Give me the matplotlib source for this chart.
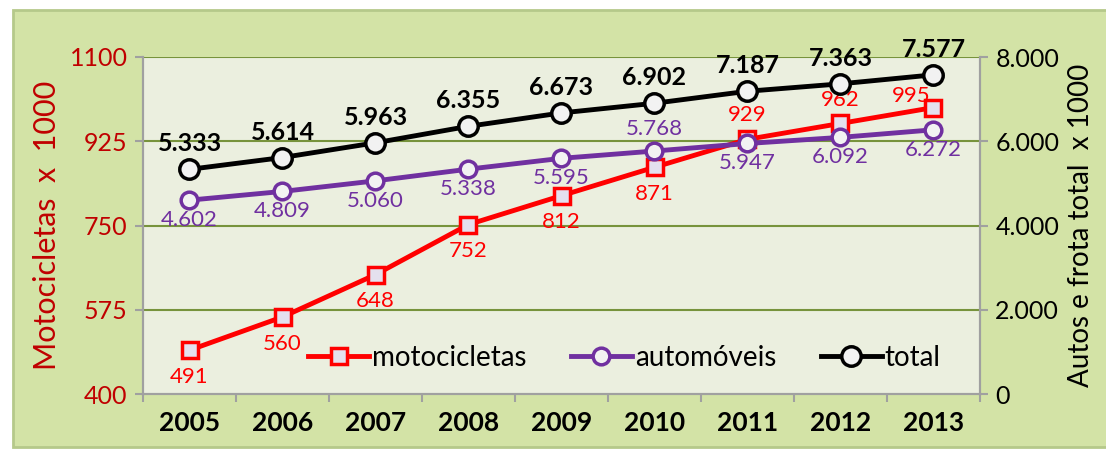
import matplotlib.pyplot as plt
from matplotlib.patches import Rectangle

# data
anos = ['2005', '2006', '2007', '2008', '2009', '2010', '2011', '2012', '2013']
motocicletas = [491, 560, 648, 752, 812, 871, 929, 962, 995]
automoveis = [4602, 4809, 5060, 5338, 5595, 5768, 5947, 6092, 6272]
total = [5333, 5614, 5963, 6355, 6673, 6902, 7187, 7363, 7577]

left_ticks = [400, 575, 750, 925, 1100]
right_ticks = [0, 2000, 4000, 6000, 8000]
right_tick_labels = ['0', '2.000', '4.000', '6.000', '8.000']

FONT = 'Lato'
RED = '#ff0000'
DARKRED = '#c00000'
PURPLE = '#7030a0'
GRID = '#77933c'
SPINE = '#a0a0a0'


def fmt_br(v):
    return f"{v:,}".replace(',', '.')


def main():
    plt.rcParams['font.family'] = [FONT, 'DejaVu Sans']
    fig = plt.figure(figsize=(11.06, 4.51), dpi=100)
    fig.patch.set_facecolor('white')

    # green outer panel
    fig.patches.append(Rectangle((13 / 1106, 4 / 451), 1.0, 437 / 451,
                                 transform=fig.transFigure, facecolor='#d3e3a6',
                                 edgecolor='#b5c98a', linewidth=2, zorder=-10))

    ax = fig.add_axes([143 / 1106, 1 - 394 / 451, (980 - 143) / 1106, (394 - 57) / 451])
    ax.set_facecolor('#ebefdf')
    ax2 = ax.twinx()

    x = list(range(len(anos)))

    ax.set_ylim(400, 1100)
    ax.set_xlim(-0.5, len(anos) - 0.5)
    ax2.set_ylim(0, 8000)

    ax.set_yticks(left_ticks)
    ax.set_yticklabels([str(t) for t in left_ticks], color=DARKRED, fontsize=18)
    ax2.set_yticks(right_ticks)
    ax2.set_yticklabels(right_tick_labels, fontsize=18)

    for t in left_ticks[1:]:
        ax.axhline(t, color=GRID, lw=1.5, zorder=0.5)

    ax.set_xticks(x)
    ax.set_xticklabels(anos, fontsize=19, fontweight='bold')
    ax.set_xticks([i - 0.5 for i in range(len(anos) + 1)], minor=True)
    ax.tick_params(axis='x', which='major', length=0, pad=12)
    ax.tick_params(axis='x', which='minor', length=6, color=SPINE, width=1.5)
    ax.tick_params(axis='y', length=6, color=SPINE, width=1.5, pad=5)
    ax2.tick_params(axis='y', length=6, color=SPINE, width=1.5, pad=5)

    for a in (ax, ax2):
        a.spines['top'].set_visible(False)
        for s in ('left', 'right', 'bottom'):
            a.spines[s].set_color(SPINE)
            a.spines[s].set_linewidth(1.5)

    ax.set_ylabel('Motocicletas  x  1000', color=DARKRED, fontsize=22, labelpad=6)
    ax2.set_ylabel('Autos e frota total  x 1000', fontsize=20, labelpad=6)

    # lines
    l_moto, = ax.plot(x, motocicletas, color=RED, lw=3.5, marker='s', ms=11,
                      mfc='#e4e0ee', mec=RED, mew=2.5, zorder=5, label='motocicletas')
    l_auto, = ax2.plot(x, automoveis, color=PURPLE, lw=3.5, marker='o', ms=12,
                       mfc='#f2f2f2', mec=PURPLE, mew=2.5, zorder=5, label='automóveis')
    l_tot, = ax2.plot(x, total, color='black', lw=3.5, marker='o', ms=14,
                      mfc='#f2f2f2', mec='black', mew=2.5, zorder=5, label='total')

    # data labels
    for i, v in enumerate(motocicletas):
        if i < 6:
            ax.annotate(str(v), (i, v), xytext=(0, -12), textcoords='offset points',
                        ha='center', va='top', color=RED, fontsize=16)
        elif i == 8:
            ax.annotate(str(v), (i, v), xytext=(-16, 8), textcoords='offset points',
                        ha='center', va='center', color=RED, fontsize=16, zorder=6)
        else:
            ax.annotate(str(v), (i, v), xytext=(0, 10), textcoords='offset points',
                        ha='center', va='bottom', color=RED, fontsize=16)
    for i, v in enumerate(automoveis):
        if i == 5:
            ax2.annotate(fmt_br(v), (i, v), xytext=(0, 9), textcoords='offset points',
                         ha='center', va='bottom', color=PURPLE, fontsize=16)
        else:
            ax2.annotate(fmt_br(v), (i, v), xytext=(0, -7), textcoords='offset points',
                         ha='center', va='top', color=PURPLE, fontsize=16)
    for i, v in enumerate(total):
        ax2.annotate(fmt_br(v), (i, v), xytext=(0, 10), textcoords='offset points',
                     ha='center', va='bottom', color='black', fontsize=18,
                     fontweight='bold')

    ax2.legend(handles=[l_moto, l_auto, l_tot], loc='lower center',
               bbox_to_anchor=(0.575, -0.005), ncol=3, frameon=False,
               fontsize=20, handlelength=2.2, handletextpad=0.1,
               columnspacing=1.6)

    fig.savefig('out.png', dpi=100, facecolor=fig.get_facecolor())


main()
